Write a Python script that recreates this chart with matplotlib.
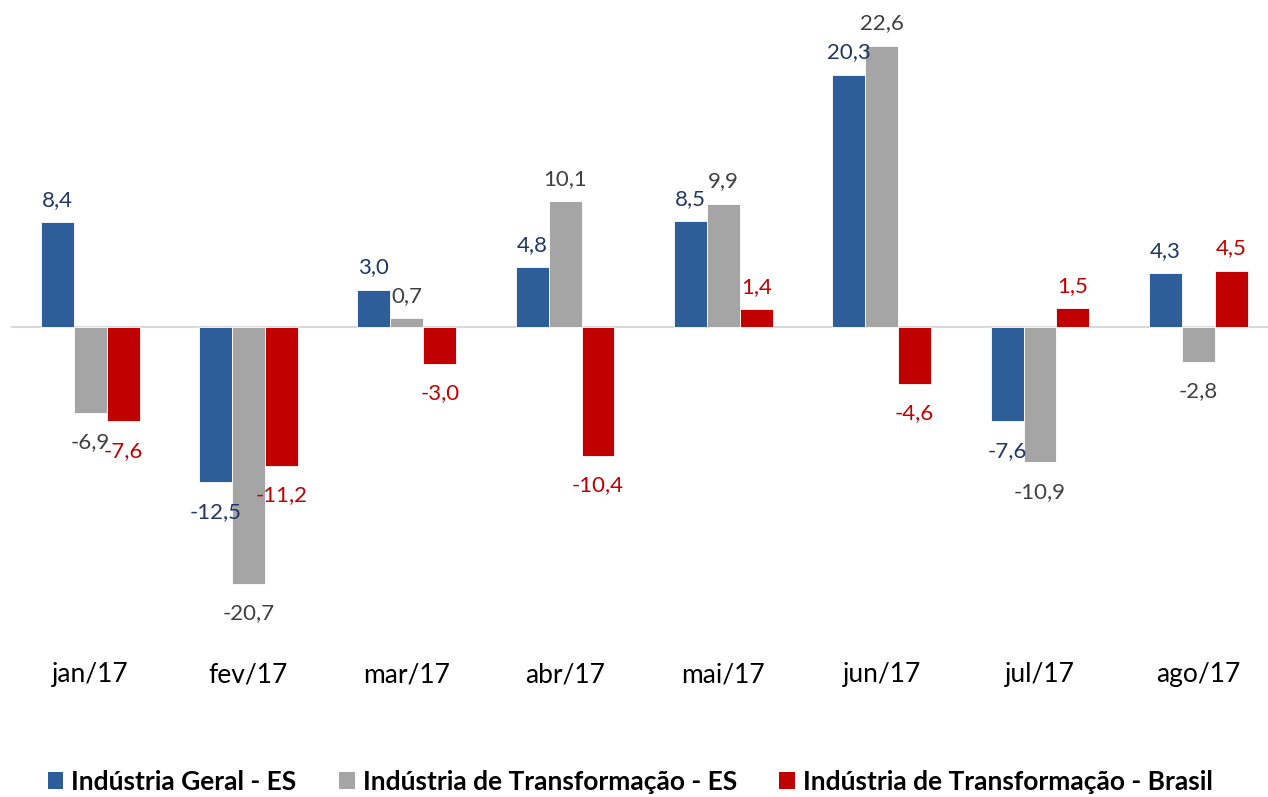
import numpy as np
import matplotlib.pyplot as plt
from matplotlib.patches import Patch

plt.rcParams['font.family'] = ['Lato', 'DejaVu Sans']

months = ['jan/17', 'fev/17', 'mar/17', 'abr/17', 'mai/17', 'jun/17', 'jul/17', 'ago/17']
geral_es = [8.4, -12.5, 3.0, 4.8, 8.5, 20.3, -7.6, 4.3]
transf_es = [-6.9, -20.7, 0.7, 10.1, 9.9, 22.6, -10.9, -2.8]
transf_br = [-7.6, -11.2, -3.0, -10.4, 1.4, -4.6, 1.5, 4.5]
series_names = ['Indústria Geral - ES', 'Indústria de Transformação - ES',
                'Indústria de Transformação - Brasil']

colors = ['#2E5E99', '#A5A5A5', '#C00000']
label_colors = ['#1F3864', '#404040', '#C00000']

W, H = 1268, 797
fig = plt.figure(figsize=(W / 100, H / 100), dpi=100)
ax = fig.add_axes([11 / W, 1 - 640 / H, 1 - 11 / W, 630 / H])

x = np.arange(len(months))
bw = 0.208
for i, (vals, c, lc) in enumerate(zip([geral_es, transf_es, transf_br], colors, label_colors)):
    xs = x + (i - 1) * bw
    ax.bar(xs, vals, width=bw, color=c, edgecolor='white', linewidth=0.6, zorder=2)
    for xi, v in zip(xs, vals):
        txt = f'{v:.1f}'.replace('.', ',')
        if v >= 0:
            ax.annotate(txt, (xi, v), xytext=(0, 9), textcoords='offset points',
                        ha='center', va='bottom', fontsize=16, color=lc)
        else:
            ax.annotate(txt, (xi, v), xytext=(0, -14), textcoords='offset points',
                        ha='center', va='top', fontsize=16, color=lc)

ax.axhline(0, color='#D9D9D9', linewidth=1.5, zorder=1)
ax.set_xlim(-0.5, 7.44)
ax.set_ylim(-25.2, 25.5)
ax.set_yticks([])
ax.set_xticks(x)
ax.set_xticklabels(months, fontsize=19)
ax.tick_params(axis='x', length=0, pad=16)
for s in ax.spines.values():
    s.set_visible(False)

handles = [Patch(facecolor=c, label=n) for c, n in zip(colors, series_names)]
fig.legend(handles=handles, loc='center', bbox_to_anchor=(0.497, 1 - 782 / H), ncol=3,
           frameon=False, prop={'size': 19, 'weight': 'bold'},
           handlelength=0.6, handleheight=0.6, handletextpad=0.3, columnspacing=1.6)

fig.savefig('out.png', dpi=100)
